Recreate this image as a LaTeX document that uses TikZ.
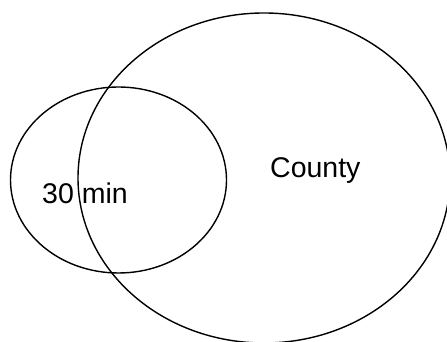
\documentclass[tikz,border=0pt]{standalone}
\usepackage{fontspec}
\setmainfont{Liberation Sans}
\usetikzlibrary{shapes.geometric}

\begin{document}
\begin{tikzpicture}[
  x=1pt, y=1pt,
  region/.style={ellipse, draw=black, line width=1.4pt, inner sep=0pt},
  tag/.style={font=\fontsize{28.5}{30}\selectfont, inner sep=0pt, anchor=base west},
]
  \useasboundingbox (0,0) rectangle (447,342);
  \begin{scope}
    \clip (0,0) rectangle (447,342);
    \node[region, minimum width=216pt, minimum height=186pt] (commute) at (118.5,162) {};
    \node[region, minimum width=372pt, minimum height=330pt] (county) at (264,164) {};
  \end{scope}

  \node[tag] (commutelabel) at (42,138) {30 min};
  \node[tag] (countylabel) at (270,164) {County};
\end{tikzpicture}
\end{document}
